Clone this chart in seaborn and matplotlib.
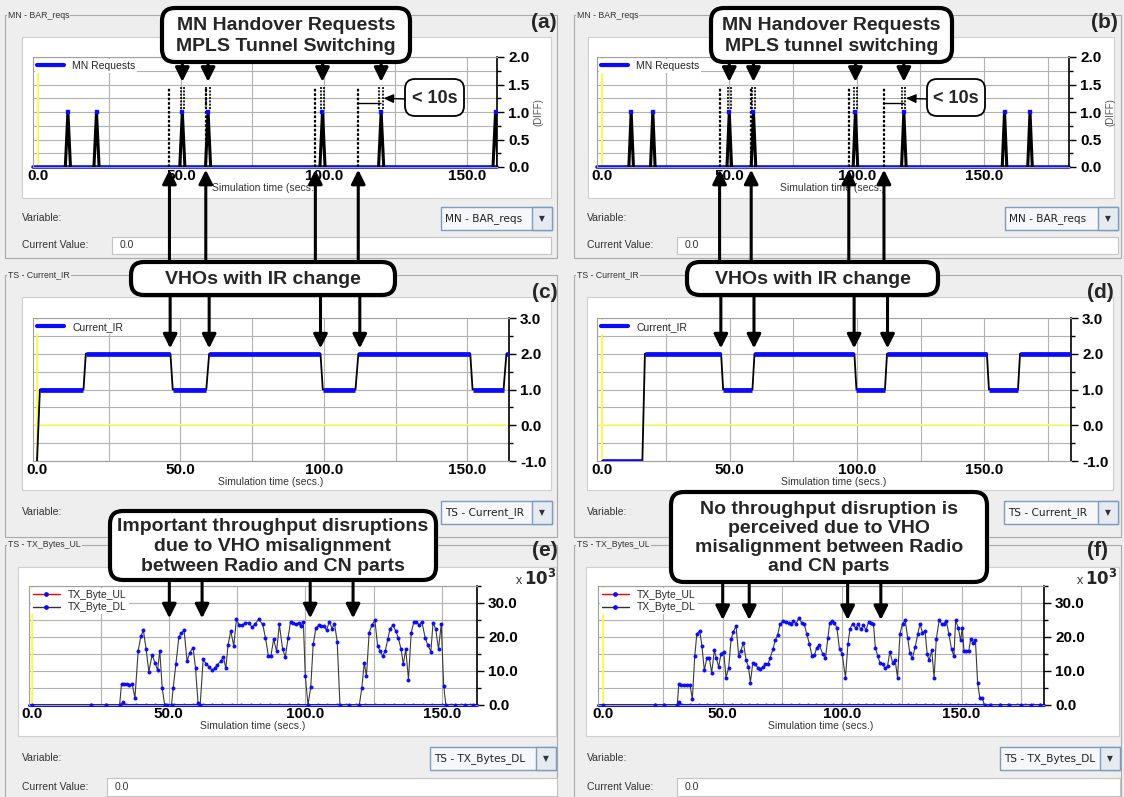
import numpy as np
import matplotlib
matplotlib.use("Agg")
from matplotlib import pyplot as plt
import matplotlib.transforms as mtransforms
from matplotlib.patches import Rectangle, FancyBboxPatch
from matplotlib.lines import Line2D
from matplotlib.ticker import MultipleLocator, FormatStrFormatter
import seaborn as sns

W, H = 1124, 797

# ---- values (times in simulation seconds) ----
# (a)/(b) MN - BAR_reqs
a_req_t = [10.5, 20.5, 50.5, 59.5, 99.5, 120.0, 160.0]
b_req_t = [11.5, 20.0, 50.0, 59.5, 99.5, 118.5, 158.0, 168.0]
a_ho_t = [50.5, 59.5, 99.5, 120.0]
b_ho_t = [50.0, 59.5, 99.5, 118.5]
a_vho_t = [46.0, 58.7, 97.0, 112.0]
b_vho_t = [46.2, 58.6, 96.9, 110.7]

# (c)/(d) TS - Current_IR, flat stretches
c_start = [0.0, 1.0, 17.0, 47.3, 60.0, 99.6, 112.0, 151.8, 163.6]
c_end = [0.0, 16.2, 46.5, 59.0, 98.8, 111.0, 151.0, 162.6, 165.0]
c_level = [-1, 1, 2, 1, 2, 1, 2, 1, 2]
c_vho_t = [46.4, 60.0, 98.8, 112.5]
d_start = [0.0, 16.8, 47.5, 59.8, 99.8, 111.8, 151.8, 164.0]
d_end = [15.8, 46.7, 59.0, 99.0, 111.0, 151.0, 163.2, 184.0]
d_level = [-1, 2, 1, 2, 1, 2, 1, 2]
d_vho_t = [46.6, 59.6, 98.9, 112.0]

# (e) TX_Byte_DL (x10^3), misaligned VHO
e_t = [0, 21.5, 27.0, 32.0, 32.7, 33.7, 34.7, 35.6, 36.6, 37.6, 38.8, 39.8, 40.7,
       41.7, 42.7, 43.9, 44.9, 45.9, 46.7, 47.6, 48.5, 49.5, 51.0, 51.6, 52.6,
       53.7, 54.6, 55.6, 56.7, 57.7, 58.9, 59.8, 60.7, 61.5, 62.6, 63.8, 64.8,
       65.9, 66.8, 67.8, 69.0, 70.0, 70.9, 71.7, 72.7, 73.8, 74.8, 75.8, 76.9,
       78.0, 79.3, 80.5, 81.7, 82.9, 84.4, 85.4, 86.5, 87.4, 88.4, 89.5, 90.5,
       91.7, 92.7, 93.7, 94.6, 95.6, 96.6, 97.6, 98.4, 99.3, 100.0, 101.0, 102.0,
       102.9, 103.9, 104.9, 105.9, 106.8, 107.8, 108.8, 109.8, 110.7, 111.7,
       112.7, 116.0, 119.8, 120.7, 121.6, 122.4, 123.4, 124.4, 125.5, 126.5,
       127.4, 128.3, 129.3, 130.2, 131.1, 132.1, 133.2, 134.1, 135.1, 135.9,
       136.8, 137.8, 138.8, 139.8, 140.7, 141.7, 142.7, 143.9, 144.9, 146.0,
       146.8, 147.8, 148.8, 149.8, 150.7, 151.5, 155.0, 158.5, 161.5]
e_v = [0, 0, 0, 0, 6.3, 6.2, 6.3, 6.0, 6.2, 2.0, 16.0, 20.3, 22.0,
       16.4, 9.8, 14.7, 12.5, 10.2, 16.0, 4.9, 0, 0, 0, 4.9, 12.0,
       20.0, 21.2, 22.0, 12.9, 15.4, 16.9, 10.8, 0.7, 0, 13.4, 12.0, 11.2,
       10.2, 10.8, 11.8, 12.9, 14.1, 10.8, 17.6, 21.8, 17.4, 25.2, 23.5, 23.4,
       24.2, 24.2, 22.9, 23.9, 25.2, 23.7, 19.8, 14.4, 14.4, 19.3, 15.9, 23.7,
       16.4, 14.1, 19.8, 24.5, 24.2, 23.7, 24.2, 23.2, 24.5, 8.5, 0, 5.3,
       17.8, 22.7, 23.4, 23.2, 23.2, 22.0, 24.5, 22.5, 23.9, 18.6,
       0, 0, 0, 4.9, 12.5, 8.5, 21.3, 23.5, 24.9, 17.4,
       15.9, 14.4, 15.9, 19.3, 22.5, 23.4, 21.8, 19.6, 16.4, 12.0,
       16.4, 7.5, 21.3, 24.5, 24.5, 23.5, 24.5, 19.8, 17.6, 15.7,
       24.2, 22.3, 16.4, 23.9, 5.6, 0, 0, 0, 0]
e_arrow_t = [50.2, 62.2, 101.8, 117.5]

# (f) TX_Byte_DL (x10^3), aligned VHO
f_t = [0, 21.5, 25.5, 31.0, 31.6, 32.5, 33.7, 34.9, 36.3, 37.3, 38.3, 39.2, 40.4,
       41.3, 42.3, 43.4, 44.4, 45.4, 46.5, 47.3, 48.3, 49.3, 50.4, 51.4, 52.5,
       53.5, 54.5, 55.6, 56.7, 57.5, 58.7, 59.8, 60.8, 61.6, 62.6, 63.5, 64.7,
       65.6, 66.8, 67.9, 69.0, 69.8, 71.0, 72.0, 73.0, 74.0, 75.1, 76.3, 77.7,
       78.6, 79.6, 80.7, 81.8, 83.1, 84.2, 85.2, 86.3, 87.4, 88.4, 89.4, 90.5,
       91.9, 93.0, 94.0, 94.8, 95.8, 96.8, 97.8, 98.9, 100.0, 101.4, 102.4, 103.3,
       104.4, 105.6, 106.7, 107.8, 108.9, 110.0, 111.1, 112.1, 113.1, 113.9,
       114.9, 115.8, 116.9, 118.0, 119.0, 120.0, 121.1, 122.2, 123.2, 124.2,
       125.3, 126.4, 127.4, 128.3, 129.4, 130.6, 131.7, 132.6, 133.6, 134.7,
       135.6, 136.4, 137.5, 138.5, 139.4, 140.6, 141.7, 142.6, 143.6, 144.7,
       145.8, 146.8, 147.5, 148.6, 149.6, 150.3, 151.0, 151.9, 153.0, 153.8,
       154.7, 155.8, 156.7, 157.6, 158.6, 159.6, 162.0, 166.0, 170.0, 175.0,
       179.0, 183.0]
f_v = [0, 0, 0, 0, 6.1, 5.9, 5.9, 5.9, 5.9, 1.7, 14.4, 21.0, 21.8,
       17.4, 10.2, 13.9, 13.7, 9.5, 16.1, 13.9, 11.2, 15.1, 15.7, 8.0, 11.0,
       19.3, 21.6, 23.2, 14.4, 15.9, 18.3, 13.1, 11.2, 6.6, 12.5, 12.0, 11.0,
       10.5, 11.2, 12.0, 12.2, 13.7, 16.4, 19.0, 20.6, 23.7, 24.7, 24.5, 24.2,
       23.9, 24.7, 23.9, 25.5, 24.2, 23.7, 20.8, 18.0, 14.4, 14.7, 16.9, 17.6,
       14.9, 13.7, 19.6, 24.2, 24.7, 24.2, 22.7, 16.4, 15.1, 8.0, 17.8, 22.5,
       23.9, 22.7, 23.7, 22.3, 23.5, 22.0, 24.5, 24.2, 23.9, 16.9,
       14.4, 12.5, 12.0, 10.8, 11.5, 15.7, 12.5, 13.1, 8.0, 21.0,
       23.9, 24.9, 19.8, 15.4, 13.7, 17.1, 21.0, 23.9, 21.3, 21.8,
       14.9, 13.1, 16.1, 8.0, 19.3, 24.9, 23.9, 23.9, 24.7, 20.8,
       16.4, 14.4, 24.9, 22.7, 19.0, 22.7, 15.9, 15.9, 15.9, 19.3,
       18.3, 19.0, 6.6, 2.2, 2.0, 0, 0, 0, 0, 0,
       0, 0]
f_arrow_t = [50.0, 61.1, 102.3, 116.2]

# TX_Byte_UL (x10^3), flat apart from a small bump when traffic starts
e_ul_t = [21.5, 27.0, 32.2, 33.2, 34.5, 38.0, 41.5, 45.0, 48.5, 52.0, 55.5, 59.0,
          62.5, 66.0, 69.5, 73.0, 76.5, 80.0, 83.5, 87.0, 90.5, 94.0, 97.5, 101.0,
          104.5, 108.0, 111.5, 115.0, 118.5, 122.0, 125.5, 129.0, 132.5, 136.0,
          139.5, 143.0, 146.5, 150.0, 153.5, 157.0, 160.5]
e_ul_v = [0, 0, 0, 0.9, 0, 0, 0, 0, 0, 0, 0, 0,
          0, 0, 0, 0, 0, 0, 0, 0, 0, 0, 0, 0,
          0, 0, 0, 0, 0, 0, 0, 0, 0, 0,
          0, 0, 0, 0, 0, 0, 0]
f_ul_t = [21.5, 25.5, 31.0, 31.8, 33.0, 36.5, 40.0, 43.5, 47.0, 50.5, 54.0, 57.5,
          61.0, 64.5, 68.0, 71.5, 75.0, 78.5, 82.0, 85.5, 89.0, 92.5, 96.0, 99.5,
          103.0, 106.5, 110.0, 113.5, 117.0, 120.5, 124.0, 127.5, 131.0, 134.5,
          138.0, 141.5, 145.0, 148.5, 152.0, 155.5, 159.0, 162.5, 166.0, 169.5,
          173.0, 176.5, 180.0, 183.0]
f_ul_v = [0, 0, 0, 1.0, 0, 0, 0, 0, 0, 0, 0, 0,
          0, 0, 0, 0, 0, 0, 0, 0, 0, 0, 0, 0,
          0, 0, 0, 0, 0, 0, 0, 0, 0, 0,
          0, 0, 0, 0, 0, 0, 0, 0, 0, 0,
          0, 0, 0, 0]

BLUE = "#0a0aff"
PANEL_BG = "#eeeeee"

sns.set_theme(style="white")
plt.rcParams["font.family"] = ["Liberation Sans", "DejaVu Sans"]

fig = plt.figure(figsize=(W / 100, H / 100), dpi=100, facecolor=PANEL_BG)
# pixel coordinates, origin top-left
T = mtransforms.Affine2D().scale(1.0 / W, -1.0 / H).translate(0, 1) + fig.transFigure


def box(x0, y0, x1, y1, **kw):
    r = Rectangle((x0, y0), x1 - x0, y1 - y0, transform=T, **kw)
    fig.add_artist(r)
    return r


def ptext(x, y, s, **kw):
    return fig.text(x, y, s, transform=T, **kw)


def panel_frame(x0, y0, x1, y1, title, letter, lx, ly):
    box(x0, y0, x1, y1, fill=False, ec="#a9a9a9", lw=0.8, zorder=-4)
    ptext(x0 + 3, y0, title, fontsize=6.3, color="#333333", va="center", ha="left",
          zorder=-3, bbox=dict(fc=PANEL_BG, ec="none", pad=0.6))
    ptext(lx, ly, letter, fontsize=15, fontweight="bold", ha="center", va="center", zorder=4)


def dropdown(x0, y0, x1, y1, label):
    box(x0, y0, x1, y1, fc="#f5f7fa", ec="#7f9bbd", lw=1.0, zorder=-3)
    box(x1 - 20, y0, x1, y1, fc="#e6ebf1", ec="#7f9bbd", lw=1.0, zorder=-3)
    ptext(x0 + 4, (y0 + y1) / 2, label, family="DejaVu Sans", fontsize=7.6,
          va="center", ha="left", color="#222222")
    ptext(x1 - 10, (y0 + y1) / 2, "\u25bc", family="DejaVu Sans", fontsize=5.5,
          ha="center", va="center", color="#333333")


def controls(xl, y_var, dd, field=None):
    ptext(xl, y_var, "Variable:", fontsize=7.5, color="#333333", va="center")
    dropdown(*dd)
    if field is not None:
        x0, y0, x1, y1 = field
        ptext(xl, (y0 + y1) / 2, "Current Value:", fontsize=7.5, color="#333333", va="center")
        box(x0, y0, x1, y1, fc="white", ec="#c3c3c3", lw=0.8, zorder=-3)
        ptext(x0 + 8, (y0 + y1) / 2, "0.0", fontsize=7.5, color="#333333", va="center")


def make_axes(x0, y0, x1, y1, xlim, ylim, ymajor, yminor):
    ax = fig.add_axes([x0 / W, 1 - y1 / H, (x1 - x0) / W, (y1 - y0) / H])
    ax.set_facecolor("white")
    ax.set_xlim(*xlim)
    ax.set_ylim(*ylim)
    ax.yaxis.tick_right()
    ax.xaxis.set_major_locator(MultipleLocator(50))
    ax.xaxis.set_minor_locator(MultipleLocator(25))
    ax.yaxis.set_major_locator(MultipleLocator(ymajor))
    ax.yaxis.set_minor_locator(MultipleLocator(yminor))
    ax.xaxis.set_major_formatter(FormatStrFormatter("%.1f"))
    ax.yaxis.set_major_formatter(FormatStrFormatter("%.1f"))
    ax.grid(True, which="both", color="#b2b2b2", lw=0.8)
    ax.set_axisbelow(True)
    ax.tick_params(axis="x", which="both", length=0, labelsize=11, pad=1.5, labelcolor="black")
    ax.tick_params(axis="y", which="major", length=5, width=1, color="black",
                   labelsize=11, pad=3, direction="out", labelcolor="black")
    ax.tick_params(axis="y", which="minor", length=3, width=1, color="black", direction="out")
    for lab in ax.get_xticklabels() + ax.get_yticklabels():
        lab.set_fontweight("bold")
    for s in ["left", "top", "bottom"]:
        ax.spines[s].set_color("#a0a0a0")
        ax.spines[s].set_linewidth(0.8)
    ax.spines["right"].set_color("black")
    ax.spines["right"].set_linewidth(1.2)
    ax.set_xlabel("Simulation time (secs.)", fontsize=7.5, color="#333333", labelpad=0)
    ax.axvline(0, color="#ffff44", lw=1.3, zorder=1.6)
    return ax


def arrow(ax, t, y_tip, y_from_px, lw=2.2):
    ax.annotate("", xy=(t, y_tip), xycoords="data",
                xytext=(t, y_from_px),
                textcoords=mtransforms.blended_transform_factory(ax.transData, T),
                arrowprops=dict(arrowstyle="-|>,head_length=0.7,head_width=0.35",
                                color="black", lw=lw, shrinkA=0, shrinkB=0),
                annotation_clip=False)


def callout(x0, y0, x1, y1, s, fs=14, lw=3.0, r=13, ls=1.2):
    p = FancyBboxPatch((x0, y0), x1 - x0, y1 - y0,
                       boxstyle=f"round,pad=0,rounding_size={r}",
                       transform=T, fc="white", ec="black", lw=lw, zorder=5)
    fig.add_artist(p)
    ptext((x0 + x1) / 2, (y0 + y1) / 2 + 1, s, fontsize=fs, fontweight="bold",
          ha="center", va="center", zorder=6, linespacing=ls)


# ---- Swing panels ----
panel_frame(5, 15, 557, 258, "MN - BAR_reqs", "(a)", 544, 22)
panel_frame(574, 15, 1121, 258, "MN - BAR_reqs", "(b)", 1104, 22)
panel_frame(5, 275, 557, 537, "TS - Current_IR", "(c)", 545, 293)
panel_frame(574, 275, 1121, 537, "TS - Current_IR", "(d)", 1100, 293)
panel_frame(5, 545, 557, 805, "TS - TX_Bytes_UL", "(e)", 545, 551)
panel_frame(574, 545, 1121, 805, "TS - TX_Bytes_UL", "(f)", 1098, 551)

for wb in [(22, 37, 551, 198), (588, 37, 1114, 198), (22, 297, 551, 490),
           (587, 297, 1113, 490), (18, 567, 556, 736), (586, 567, 1119, 736)]:
    box(*wb, fc="white", ec="#cfcfcf", lw=0.8, zorder=-3.5)

controls(22, 218, (441, 207, 552, 230, "MN - BAR_reqs"), (112, 237, 551, 254))
controls(587, 218, (1005, 207, 1118, 230, "MN - BAR_reqs"), (677, 237, 1118, 254))
controls(22, 512, (441, 501, 552, 524, "TS - Current_IR"))
controls(587, 512, (1004, 501, 1118, 524, "TS - Current_IR"))
controls(22, 758, (430, 747, 556, 770, "TS - TX_Bytes_DL"), (107, 778, 557, 796))
controls(587, 758, (1000, 747, 1120, 770, "TS - TX_Bytes_DL"), (677, 778, 1120, 796))


# ---- (a) / (b): MN handover requests ----
def draw_requests(ax, req_t, ho_t, vho_t):
    xs, ys, units = [], [], []
    for i, t in enumerate(req_t):
        xs += [t - 0.9, t, t + 0.9]
        ys += [0, 1, 0]
        units += [i, i, i]
    sns.lineplot(x=xs, y=ys, units=units, estimator=None, sort=False,
                 color="black", lw=2.2, ax=ax, legend=False, zorder=3)
    ax.axhline(0, color=BLUE, lw=2.6, zorder=2.5, clip_on=False)
    sns.scatterplot(x=req_t, y=[1] * len(req_t), marker="s", s=9, color=BLUE,
                    edgecolor=BLUE, ax=ax, legend=False, zorder=4)
    ax.vlines(vho_t, 0, 1.45, colors="black", linestyles=(0, (1.2, 0.8)), lw=1.6, zorder=3)
    ax.vlines([t - 0.6 for t in ho_t] + [t + 0.6 for t in ho_t], 1.06, 1.45,
              colors="black", linestyles=(0, (1.2, 0.8)), lw=1.2, zorder=3)
    ax.hlines(1.16, vho_t[3], ho_t[3], colors="black", lw=1.0, zorder=3)
    ax.legend(handles=[Line2D([], [], color=BLUE, lw=3)], labels=["MN Requests"],
              loc="upper left", fontsize=7.5, frameon=True, facecolor="white",
              edgecolor="none", framealpha=1, handlelength=2.6, borderaxespad=0.15,
              borderpad=0.2)
    ax.yaxis.set_label_position("right")
    ax.set_ylabel("(DIFF)", fontsize=7, color="#555555", labelpad=3)


ax_a = make_axes(33, 57, 497, 167, (-1.7, 160.5), (0, 2), 0.5, 0.25)
draw_requests(ax_a, a_req_t, a_ho_t, a_vho_t)
ax_b = make_axes(597, 57, 1069, 167, (-1.9, 183.3), (0, 2), 0.5, 0.25)
draw_requests(ax_b, b_req_t, b_ho_t, b_vho_t)


# ---- (c) / (d): Current_IR ----
def draw_ir(ax, start, end, level):
    px, py = [], []
    for s, e, l in zip(start, end, level):
        px += [s, e]
        py += [l, l]
    sns.lineplot(x=px, y=py, estimator=None, sort=False, color="black", lw=1.3,
                 ax=ax, legend=False, zorder=3)
    ax.hlines(level, start, end, colors=BLUE, lw=3.4, zorder=4)
    ax.axhline(0, color="#ffff66", lw=1.2, zorder=1.6)
    ax.legend(handles=[Line2D([], [], color=BLUE, lw=3)], labels=["Current_IR"],
              loc="upper left", fontsize=7.5, frameon=True, facecolor="white",
              edgecolor="none", framealpha=1, handlelength=2.6, borderaxespad=0.15,
              borderpad=0.2)


ax_c = make_axes(33, 318, 509, 461, (-1.4, 164.5), (-1, 3), 1.0, 0.5)
draw_ir(ax_c, c_start, c_end, c_level)
ax_d = make_axes(597, 318, 1071, 461, (-2.0, 184.0), (-1, 3), 1.0, 0.5)
draw_ir(ax_d, d_start, d_end, d_level)


# ---- (e) / (f): TX bytes ----
def draw_bytes(ax, dl_t, dl_v, ul_t, ul_v):
    ax.axhline(0, color=BLUE, lw=2.2, zorder=2.2, clip_on=False)
    sns.lineplot(x=ul_t, y=ul_v, estimator=None, color="red", lw=0.8, marker="o",
                 markersize=2.0, markerfacecolor=BLUE, markeredgecolor=BLUE,
                 ax=ax, legend=False, zorder=2.1)
    sns.lineplot(x=dl_t, y=dl_v, estimator=None, color="#3a3a3a", lw=0.8, marker="o",
                 markersize=2.1, markerfacecolor=BLUE, markeredgecolor=BLUE,
                 ax=ax, legend=False, zorder=3)
    hs = [Line2D([], [], color="red", lw=1, marker="o", ms=2.4, mfc=BLUE, mec=BLUE),
          Line2D([], [], color="#333333", lw=1, marker="o", ms=2.4, mfc=BLUE, mec=BLUE)]
    ax.legend(handles=hs, labels=["TX_Byte_UL", "TX_Byte_DL"], loc="upper left",
              fontsize=7.5, frameon=True, facecolor="white", edgecolor="none",
              framealpha=1, handlelength=2.6, borderaxespad=0.15, borderpad=0.2,
              labelspacing=0.25)


ax_e = make_axes(29, 586, 477, 705, (-1.2, 162.9), (0, 35), 10, 5)
draw_bytes(ax_e, e_t, e_v, e_ul_t, e_ul_v)
ax_f = make_axes(598, 586, 1044, 705, (-2.2, 184.5), (0, 35), 10, 5)
draw_bytes(ax_f, f_t, f_v, f_ul_t, f_ul_v)
for xr in (556, 1117):
    ptext(xr - 34, 581, "x", fontsize=9, color="#333333", ha="right", va="center")
    ptext(xr, 578, r"$\mathbf{10^{3}}$", fontsize=12, ha="right", va="center")

# ---- annotation arrows ----
for t in a_ho_t:
    arrow(ax_a, t, 1.55, 62)
for t in b_ho_t:
    arrow(ax_b, t, 1.55, 62)
for t in a_vho_t:
    arrow(ax_a, t, -0.05, 263)
for t in b_vho_t:
    arrow(ax_b, t, -0.05, 263)
for t in c_vho_t:
    arrow(ax_c, t, 2.15, 295)
for t in d_vho_t:
    arrow(ax_d, t, 2.15, 295)
for t in e_arrow_t:
    arrow(ax_e, t, 25.5, 580)
for t in f_arrow_t:
    arrow(ax_f, t, 25.0, 582)

for ax, ho, x0 in [(ax_a, a_ho_t, 405), (ax_b, b_ho_t, 927)]:
    ax.annotate("", xy=(ho[3] + 0.8, 1.25), xycoords="data", xytext=(x0, 99),
                textcoords=T, arrowprops=dict(arrowstyle="-|>,head_length=0.5,head_width=0.22",
                                              color="black", lw=1.0, shrinkA=0, shrinkB=0),
                annotation_clip=False)

# ---- callout boxes ----
callout(162, 8, 410, 62, "MN Handover Requests\nMPLS Tunnel Switching", ls=1.25)
callout(711, 8, 952, 62, "MN Handover Requests\nMPLS tunnel switching", ls=1.25)
callout(405, 79, 464, 116, "< 10s", fs=13, lw=1.3, r=10)
callout(927, 79, 985, 116, "< 10s", fs=13, lw=1.3, r=10)
callout(131, 262, 395, 295, "VHOs with IR change")
callout(687, 262, 938, 295, "VHOs with IR change")
callout(110, 511, 436, 580,
        "Important throughput disruptions\ndue to VHO misalignment\nbetween Radio and CN parts",
        ls=1.2)
callout(671, 492, 987, 582,
        "No throughput disruption is\nperceived due to VHO\nmisalignment between Radio\nand CN parts",
        ls=1.15)

fig.savefig("out.png", dpi=100, facecolor=PANEL_BG)
